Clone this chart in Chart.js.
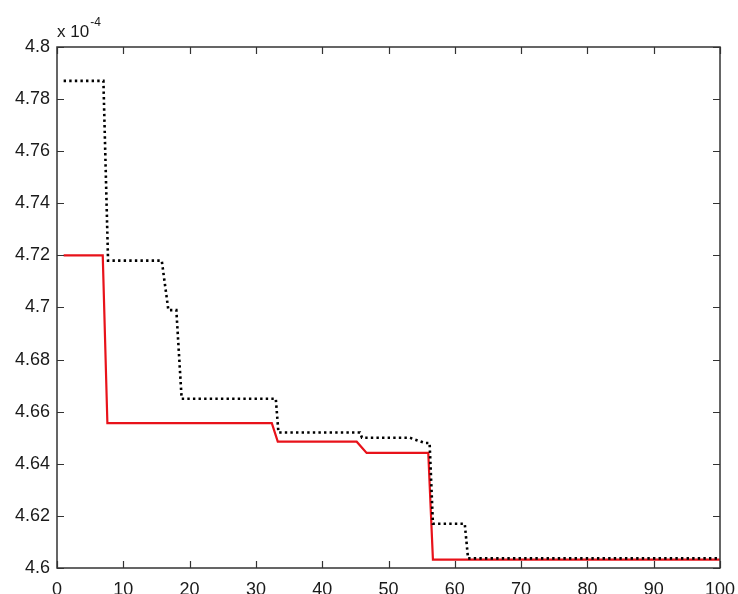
<!DOCTYPE html>
<html lang="en">
<head>
    <meta charset="UTF-8">
    <title>Convergence</title>
    <script src="https://cdn.jsdelivr.net/npm/chart.js"></script>
    <style>
        html, body { margin: 0; padding: 0; background: #fff; overflow: hidden; }
        #wrap { width: 738px; height: 594px; position: relative; }
    </style>
</head>
<body>
    <div id="wrap"><canvas id="convChart" width="738" height="594"></canvas></div>

    <script>
        // values in units of 1e-4
        const dottedX = [1, 7.0, 7.7, 15.8, 16.8, 18.0, 18.8, 33.0, 33.4, 45.7, 46.0, 53.2, 55.5, 56.2, 56.7, 61.5, 62.0, 100];
        const dottedY = [4.787, 4.787, 4.718, 4.718, 4.699, 4.699, 4.665, 4.665, 4.652, 4.652, 4.650, 4.650, 4.648, 4.648, 4.617, 4.617, 4.6037, 4.6037];

        const redX = [1, 6.9, 7.6, 32.4, 33.3, 45.2, 46.7, 56.0, 56.7, 100];
        const redY = [4.720, 4.720, 4.6556, 4.6556, 4.6485, 4.6485, 4.6442, 4.6442, 4.6032, 4.6032];

        const xTicks = [0, 10, 20, 30, 40, 50, 60, 70, 80, 90, 100];
        const yTicks = [4.6, 4.62, 4.64, 4.66, 4.68, 4.7, 4.72, 4.74, 4.76, 4.78, 4.8];

        function toPoints(xs, ys) {
            return xs.map((x, i) => ({ x: x, y: ys[i] }));
        }

        // box around the plot, inward ticks on all four sides, exponent label
        const matlabAxes = {
            id: 'matlabAxes',
            afterDraw(chart) {
                const ctx = chart.ctx;
                const a = chart.chartArea;
                const xs = chart.scales.x;
                const ys = chart.scales.y;
                const len = 7;
                ctx.save();
                ctx.strokeStyle = '#333';
                ctx.lineWidth = 1.5;
                ctx.strokeRect(a.left, a.top, a.right - a.left, a.bottom - a.top);
                ctx.lineWidth = 1.2;
                ctx.beginPath();
                xTicks.forEach(v => {
                    const px = Math.round(xs.getPixelForValue(v)) + 0.5;
                    ctx.moveTo(px, a.bottom); ctx.lineTo(px, a.bottom - len);
                    ctx.moveTo(px, a.top); ctx.lineTo(px, a.top + len);
                });
                yTicks.forEach(v => {
                    const py = Math.round(ys.getPixelForValue(v)) + 0.5;
                    ctx.moveTo(a.left, py); ctx.lineTo(a.left + len, py);
                    ctx.moveTo(a.right, py); ctx.lineTo(a.right - len, py);
                });
                ctx.stroke();

                ctx.fillStyle = '#1a1a1a';
                ctx.textBaseline = 'alphabetic';
                ctx.textAlign = 'left';
                ctx.font = '17px "Liberation Sans", Arial, sans-serif';
                ctx.fillText('x 10', a.left, a.top - 10);
                const w = ctx.measureText('x 10').width;
                ctx.font = '12px "Liberation Sans", Arial, sans-serif';
                ctx.fillText('-4', a.left + w + 1, a.top - 21);
                ctx.restore();
            }
        };

        const ctx = document.getElementById('convChart').getContext('2d');
        new Chart(ctx, {
            type: 'line',
            data: {
                datasets: [
                    {
                        label: 'dotted',
                        data: toPoints(dottedX, dottedY),
                        borderColor: '#000',
                        borderWidth: 2.6,
                        borderDash: [2.4, 3.2],
                        pointRadius: 0,
                        tension: 0,
                        fill: false
                    },
                    {
                        label: 'red',
                        data: toPoints(redX, redY),
                        borderColor: '#e8121a',
                        borderWidth: 2.2,
                        pointRadius: 0,
                        tension: 0,
                        fill: false
                    }
                ]
            },
            plugins: [matlabAxes],
            options: {
                responsive: false,
                animation: false,
                layout: { padding: { left: 0, right: 18, top: 47, bottom: 0 } },
                plugins: {
                    legend: { display: false },
                    tooltip: { enabled: false }
                },
                scales: {
                    x: {
                        type: 'linear',
                        min: 0,
                        max: 100,
                        afterBuildTicks: s => { s.ticks = xTicks.map(v => ({ value: v })); },
                        afterFit: s => { s.height = 26; s.paddingLeft = 0; s.paddingRight = 0; },
                        grid: { display: false, drawTicks: false },
                        border: { display: false },
                        ticks: {
                            color: '#1a1a1a',
                            padding: 11,
                            maxRotation: 0,
                            autoSkip: false,
                            font: { family: '"Liberation Sans", Arial, sans-serif', size: 18 }
                        }
                    },
                    y: {
                        type: 'linear',
                        min: 4.6,
                        max: 4.8,
                        afterBuildTicks: s => { s.ticks = yTicks.map(v => ({ value: v })); },
                        afterFit: s => { s.width = 57; s.paddingTop = 0; s.paddingBottom = 0; },
                        grid: { display: false, drawTicks: false },
                        border: { display: false },
                        ticks: {
                            color: '#1a1a1a',
                            padding: 7,
                            autoSkip: false,
                            font: { family: '"Liberation Sans", Arial, sans-serif', size: 18 },
                            callback: v => String(parseFloat(v.toFixed(2)))
                        }
                    }
                }
            }
        });
    </script>
</body>
</html>
